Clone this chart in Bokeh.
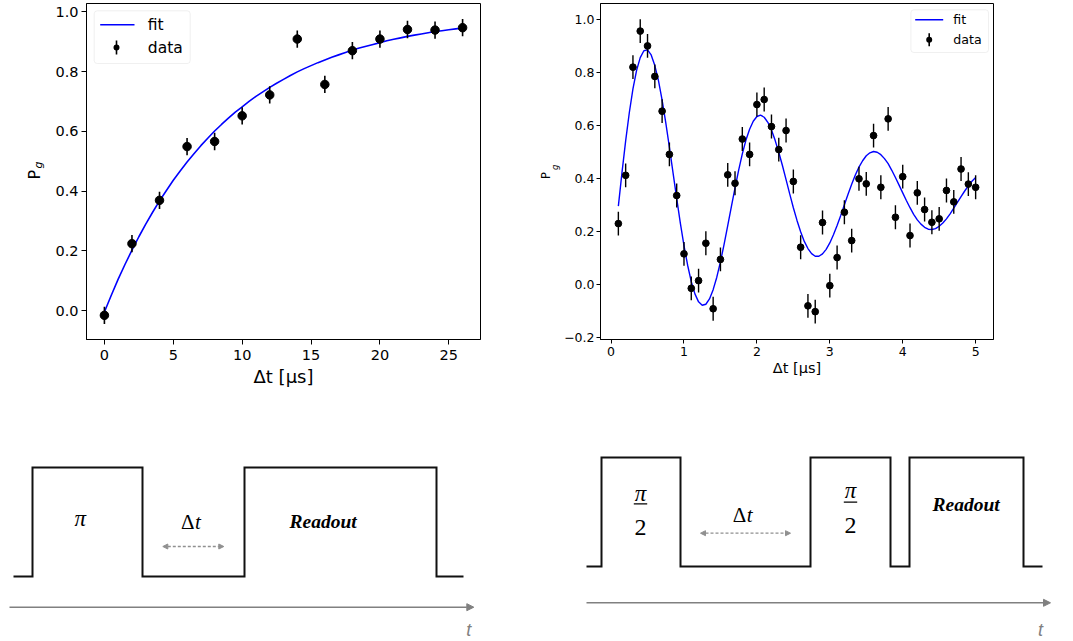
import numpy as np
from bokeh.plotting import figure
from bokeh.layouts import column, row
from bokeh.models import (Range1d, FixedTicker, Label, BoxAnnotation, Arrow, NormalHead,
                          CustomJSTickFormatter, LinearAxis)
from bokeh.core.properties import value
from bokeh.embed import file_html
from bokeh.resources import INLINE

# ---------------- data: T1 measurement ----------------
t1_time = [0, 2, 4, 6, 8, 10, 12, 14, 16, 18, 20, 22, 24, 26]
t1_pg = [-0.016, 0.224, 0.369, 0.549, 0.566, 0.652, 0.722, 0.909, 0.757,
         0.870, 0.909, 0.941, 0.939, 0.947]
t1_err = [0.029, 0.029, 0.029, 0.029, 0.029, 0.029, 0.029, 0.029, 0.029,
          0.029, 0.029, 0.029, 0.029, 0.029]
t1_fit_time = [0, 0.5, 1, 1.5, 2, 2.5, 3, 3.5, 4, 4.5, 5, 5.5, 6, 6.5, 7, 7.5, 8, 8.5,
               9, 9.5, 10, 10.5, 11, 11.5, 12, 12.5, 13, 13.5, 14, 14.5, 15, 15.5, 16,
               16.5, 17, 17.5, 18, 18.5, 19, 19.5, 20, 20.5, 21, 21.5, 22, 22.5, 23,
               23.5, 24, 24.5, 25, 25.5, 26]
t1_fit_pg = [-0.005, 0.051, 0.105, 0.155, 0.202, 0.247, 0.289, 0.329, 0.367, 0.402,
             0.436, 0.467, 0.497, 0.525, 0.552, 0.577, 0.601, 0.623, 0.644, 0.664,
             0.682, 0.700, 0.717, 0.732, 0.747, 0.761, 0.774, 0.787, 0.799, 0.810,
             0.820, 0.830, 0.839, 0.848, 0.856, 0.864, 0.872, 0.879, 0.885, 0.891,
             0.897, 0.903, 0.908, 0.913, 0.918, 0.922, 0.926, 0.930, 0.934, 0.937,
             0.940, 0.943, 0.946]
t1_xticks = [0, 5, 10, 15, 20, 25]
t1_yticks = [0.0, 0.2, 0.4, 0.6, 0.8, 1.0]

# ---------------- data: Ramsey measurement ----------------
ram_time = [0.1, 0.2, 0.3, 0.4, 0.5, 0.6, 0.7, 0.8, 0.9, 1.0,
            1.1, 1.2, 1.3, 1.4, 1.5, 1.6, 1.7, 1.8, 1.9, 2.0,
            2.1, 2.2, 2.3, 2.4, 2.5, 2.6, 2.7, 2.8, 2.9, 3.0,
            3.1, 3.2, 3.3, 3.4, 3.5, 3.6, 3.7, 3.8, 3.9, 4.0,
            4.1, 4.2, 4.3, 4.4, 4.5, 4.6, 4.7, 4.8, 4.9, 5.0]
ram_pg = [0.231, 0.413, 0.821, 0.957, 0.901, 0.786, 0.655, 0.492, 0.337, 0.117,
          -0.013, 0.016, 0.157, -0.090, 0.096, 0.415, 0.383, 0.550, 0.492, 0.680,
          0.699, 0.597, 0.510, 0.582, 0.390, 0.142, -0.079, -0.101, 0.235, -0.003,
          0.103, 0.274, 0.167, 0.400, 0.381, 0.563, 0.368, 0.626, 0.255, 0.408,
          0.186, 0.347, 0.284, 0.236, 0.249, 0.356, 0.313, 0.437, 0.380, 0.368]
ram_err = [0.045, 0.045, 0.045, 0.045, 0.045, 0.045, 0.045, 0.045, 0.045, 0.045,
           0.045, 0.045, 0.045, 0.045, 0.045, 0.045, 0.045, 0.045, 0.045, 0.045,
           0.045, 0.045, 0.045, 0.045, 0.045, 0.045, 0.045, 0.045, 0.045, 0.045,
           0.045, 0.045, 0.045, 0.045, 0.045, 0.045, 0.045, 0.045, 0.045, 0.045,
           0.045, 0.045, 0.045, 0.045, 0.045, 0.045, 0.045, 0.045, 0.045, 0.045]
ram_fit_time = [0.10, 0.15, 0.20, 0.25, 0.30, 0.35, 0.40, 0.45, 0.50, 0.55,
                0.60, 0.65, 0.70, 0.75, 0.80, 0.85, 0.90, 0.95, 1.00, 1.05,
                1.10, 1.15, 1.20, 1.25, 1.30, 1.35, 1.40, 1.45, 1.50, 1.55,
                1.60, 1.65, 1.70, 1.75, 1.80, 1.85, 1.90, 1.95, 2.00, 2.05,
                2.10, 2.15, 2.20, 2.25, 2.30, 2.35, 2.40, 2.45, 2.50, 2.55,
                2.60, 2.65, 2.70, 2.75, 2.80, 2.85, 2.90, 2.95, 3.00, 3.05,
                3.10, 3.15, 3.20, 3.25, 3.30, 3.35, 3.40, 3.45, 3.50, 3.55,
                3.60, 3.65, 3.70, 3.75, 3.80, 3.85, 3.90, 3.95, 4.00, 4.05,
                4.10, 4.15, 4.20, 4.25, 4.30, 4.35, 4.40, 4.45, 4.50, 4.55,
                4.60, 4.65, 4.70, 4.75, 4.80, 4.85, 4.90, 4.95, 5.00]
ram_fit_pg = [0.297, 0.424, 0.543, 0.649, 0.739, 0.809, 0.857, 0.883, 0.886, 0.867,
              0.827, 0.770, 0.697, 0.612, 0.519, 0.422, 0.326, 0.233, 0.148, 0.074,
              0.012, -0.034, -0.064, -0.077, -0.073, -0.053, -0.018, 0.029, 0.087, 0.153,
              0.223, 0.295, 0.366, 0.433, 0.494, 0.546, 0.587, 0.617, 0.635, 0.640,
              0.632, 0.613, 0.584, 0.545, 0.500, 0.450, 0.397, 0.343, 0.291, 0.243,
              0.200, 0.164, 0.137, 0.118, 0.108, 0.108, 0.117, 0.134, 0.158, 0.189,
              0.224, 0.262, 0.302, 0.342, 0.379, 0.414, 0.444, 0.468, 0.487, 0.498,
              0.503, 0.500, 0.491, 0.476, 0.457, 0.432, 0.405, 0.376, 0.347, 0.318,
              0.291, 0.266, 0.245, 0.229, 0.217, 0.210, 0.209, 0.212, 0.221, 0.233,
              0.249, 0.268, 0.289, 0.311, 0.333, 0.354, 0.373, 0.391, 0.405]
ram_xticks = [0, 1, 2, 3, 4, 5]
ram_yticks = [-0.2, 0.0, 0.2, 0.4, 0.6, 0.8, 1.0]

# ---------------- pulse sequences (diagram units) ----------------
seq1_edges = [13, 32, 142, 244, 436, 463]
seq1_levels = [576, 467]
seq2_edges = [586, 601, 680, 810, 890, 909, 1023, 1042]
seq2_levels = [566, 457]

FONT = "DejaVu Sans"


def fmt_js():
    return CustomJSTickFormatter(code="""
        const v = Math.round(tick * 10) / 10;
        return (v < 0 ? '\\u2212' : '') + Math.abs(v).toFixed(1);
    """)


def style(p, tick_px, label_px, tick_out, std_x, std_y, lab_std):
    p.xgrid.visible = False
    p.ygrid.visible = False
    p.outline_line_color = "black"
    p.outline_line_width = 1
    p.background_fill_color = "white"
    p.border_fill_color = "white"
    for ax in (p.xaxis[0], p.yaxis[0]):
        ax.axis_line_color = "black"
        ax.major_tick_line_color = "black"
        ax.major_tick_out = tick_out
        ax.major_tick_in = 0
        ax.minor_tick_line_color = None
        ax.major_label_text_font = FONT
        ax.major_label_text_font_size = f"{tick_px}px"
        ax.major_label_text_color = "black"
        ax.axis_label_text_font = FONT
        ax.axis_label_text_font_size = f"{label_px}px"
        ax.axis_label_text_font_style = "normal"
        ax.axis_label_text_color = "black"
        ax.axis_label_standoff = lab_std
    p.xaxis.major_label_standoff = std_x
    p.yaxis.major_label_standoff = std_y


def sbox(**kw):
    return BoxAnnotation(left_units="screen", right_units="screen",
                         top_units="screen", bottom_units="screen", **kw)


def add_legend(p, fh, box, line_seg, bar, text_x, row_y, font_px, dot):
    l, r, t, b = box
    p.add_layout(sbox(left=l, right=r, top=fh - t, bottom=fh - b,
                      fill_color="white", fill_alpha=0.8,
                      line_color="#cccccc", line_width=1, border_radius=3))
    x0, x1 = line_seg
    p.add_layout(sbox(left=x0, right=x1, top=fh - row_y[0] + 0.8, bottom=fh - row_y[0] - 0.8,
                      fill_color="#0000ff", fill_alpha=1, line_color=None))
    bx, bh = bar
    p.add_layout(sbox(left=bx - 0.8, right=bx + 0.8, top=fh - row_y[1] + bh, bottom=fh - row_y[1] - bh,
                      fill_color="black", fill_alpha=1, line_color=None))
    p.add_layout(sbox(left=bx - dot / 2, right=bx + dot / 2,
                      top=fh - row_y[1] + dot / 2, bottom=fh - row_y[1] - dot / 2,
                      fill_color="black", fill_alpha=1, line_color=None,
                      border_radius=int(dot // 2)))
    for txt, yy in (("fit", row_y[0]), ("data", row_y[1])):
        p.add_layout(Label(x=text_x, y=fh - yy, x_units="screen", y_units="screen", text=txt,
                           text_font=FONT, text_font_size=f"{font_px}px", text_color="black",
                           text_align="left", text_baseline="middle"))


def add_pg(p, g_text, g_px, g_std, p_text, p_px, p_std):
    # subscript "g" as the inner y-axis label, "P" on an outer blank axis
    ya = p.yaxis[0]
    ya.axis_label = g_text
    ya.axis_label_text_font_size = f"{g_px}px"
    ya.axis_label_text_font_style = "italic"
    ya.axis_label_standoff = g_std
    outer = LinearAxis(ticker=FixedTicker(ticks=[]), axis_line_color=None,
                       major_tick_line_color=None, minor_tick_line_color=None,
                       major_label_text_font_size="0px",
                       axis_label=p_text, axis_label_standoff=p_std,
                       axis_label_text_font=FONT, axis_label_text_font_size=f"{p_px}px",
                       axis_label_text_font_style="normal", axis_label_text_color="black")
    p.add_layout(outer, "left")


# ---------------- left plot (T1) ----------------
FH1 = 337
p1 = figure(width=508, height=400, x_range=Range1d(-1.3, 27.3), y_range=Range1d(-0.097, 1.028),
            output_backend="svg", toolbar_location=None,
            min_border_left=86, min_border_right=28, min_border_top=2, min_border_bottom=61)
style(p1, 14.5, 18, 5, 5, 3, 3)
p1.xaxis.ticker = FixedTicker(ticks=t1_xticks)
p1.yaxis.ticker = FixedTicker(ticks=t1_yticks)
p1.yaxis.formatter = fmt_js()
p1.xaxis.axis_label = "Δt [μs]"
p1.line(t1_fit_time, t1_fit_pg, line_color="#0000ff", line_width=1.6)
p1.segment(x0=t1_time, y0=[y - e for y, e in zip(t1_pg, t1_err)],
           x1=t1_time, y1=[y + e for y, e in zip(t1_pg, t1_err)],
           line_color="black", line_width=1.6)
p1.scatter(t1_time, t1_pg, size=8.5, marker="circle", fill_color="black", line_color="black")
add_legend(p1, FH1, (7.7, 103.7, 8.3, 61), (13.7, 48), (30, 7), 61.3, (22.3, 45), 15.5, 6)
add_pg(p1, "\u2003\u2009g", 11, 7, "P\u2009\u2009", 16, -14)

# ---------------- right plot (Ramsey) ----------------
FH2 = 336
p2 = figure(width=564, height=400, x_range=Range1d(-0.145, 5.245), y_range=Range1d(-0.206, 1.061),
            output_backend="svg", toolbar_location=None,
            min_border_left=92, min_border_right=79, min_border_top=3, min_border_bottom=61)
style(p2, 12.5, 14.5, 4, 3, 2, 1)
p2.xaxis.ticker = FixedTicker(ticks=ram_xticks)
p2.yaxis.ticker = FixedTicker(ticks=ram_yticks)
p2.yaxis.formatter = fmt_js()
p2.xaxis.axis_label = "Δt [μs]"
p2.line(ram_fit_time, ram_fit_pg, line_color="#0000ff", line_width=1.4)
p2.segment(x0=ram_time, y0=[y - e for y, e in zip(ram_pg, ram_err)],
           x1=ram_time, y1=[y + e for y, e in zip(ram_pg, ram_err)],
           line_color="black", line_width=1.4)
p2.scatter(ram_time, ram_pg, size=6.7, marker="circle", fill_color="black", line_color="black")
add_legend(p2, FH2, (310.4, 388, 6.3, 49), (314.7, 342.7), (328.7, 6.5), 352.8, (16.3, 36.3), 12.6, 6)
add_pg(p2, "\u2003g", 8.5, 1, "P\u2002\u2009", 11.5, -5)

# ---------------- pulse diagrams ----------------
d = figure(width=1072, height=240, x_range=Range1d(0, 1072), y_range=Range1d(640, 400),
           output_backend="svg", toolbar_location=None,
           x_axis_location=None, y_axis_location=None, min_border=0)
d.outline_line_color = None
d.xgrid.visible = False
d.ygrid.visible = False
d.background_fill_color = "white"
d.border_fill_color = "white"


def pulse_path(edges, levels):
    low, high = levels
    xs, ys = [edges[0]], [low]
    lev = low
    for e in edges[1:-1]:
        nxt = high if lev == low else low
        xs += [e, e]
        ys += [lev, nxt]
        lev = nxt
    xs.append(edges[-1])
    ys.append(lev)
    return xs, ys


for edges, levels in ((seq1_edges, seq1_levels), (seq2_edges, seq2_levels)):
    xs, ys = pulse_path(edges, levels)
    d.line(xs, ys, line_color="#111111", line_width=2, line_join="miter")

GRAY = "#808080"
for xa, xb, ya in ((9, 473.3, 606.7), (586, 1050, 602.3)):
    d.add_layout(Arrow(x_start=xa, y_start=ya, x_end=xb, y_end=ya, line_color=GRAY, line_width=1.6,
                       end=NormalHead(size=7, fill_color=GRAY, line_color=GRAY, line_width=1)))
for xa, xb, ya in ((162.3, 223.3, 546), (700, 790, 532.7)):
    d.add_layout(Arrow(x_start=xa, y_start=ya, x_end=xb, y_end=ya, line_color="#909090",
                       line_width=1.3, line_dash="3 2",
                       start=NormalHead(size=5, fill_color="#909090", line_color="#909090", line_width=1),
                       end=NormalHead(size=5, fill_color="#909090", line_color="#909090", line_width=1)))

SERIF = value("Liberation Serif")
d.text(x=[79.7], y=[517.5], text=["π"], text_font=SERIF, text_font_style="italic",
       text_font_size="23px", text_align="center", text_baseline="alphabetic", text_color="black")
d.text(x=[640, 850], y=[492.7, 490], text=["π", "π"], text_font=SERIF, text_font_style="italic",
       text_font_size="23px", text_align="center", text_baseline="alphabetic", text_color="black")
d.text(x=[640, 850], y=[527, 525], text=["2", "2"], text_font=SERIF,
       text_font_size="24px", text_align="center", text_baseline="alphabetic", text_color="black")
d.segment(x0=[633.3, 843.3], y0=[503.3, 501.7], x1=[646.7, 856.7], y1=[503.3, 501.7],
          line_color="black", line_width=1.3)
d.text(x=[194, 745.7], y=[521.5, 514], text=["Δ", "Δ"], text_font=SERIF,
       text_font_size="21px", text_align="right", text_baseline="alphabetic", text_color="black")
d.text(x=[194.5, 746.2], y=[521.5, 514], text=["t", "t"], text_font=SERIF, text_font_style="italic",
       text_font_size="21px", text_align="left", text_baseline="alphabetic", text_color="black")
d.text(x=[322.7, 965.7], y=[521, 504], text=["Readout", "Readout"], text_font=SERIF,
       text_font_style="bold italic", text_font_size="19.5px", text_align="center",
       text_baseline="alphabetic", text_color="black")
d.text(x=[468.3, 1040], y=[629, 629], text=["t", "t"], text_font=value("Liberation Sans"),
       text_font_style="italic", text_font_size="18px", text_align="center",
       text_baseline="alphabetic", text_color=GRAY)

layout = column(row(p1, p2), d)
open("out.html", "w").write(file_html(layout, INLINE))
